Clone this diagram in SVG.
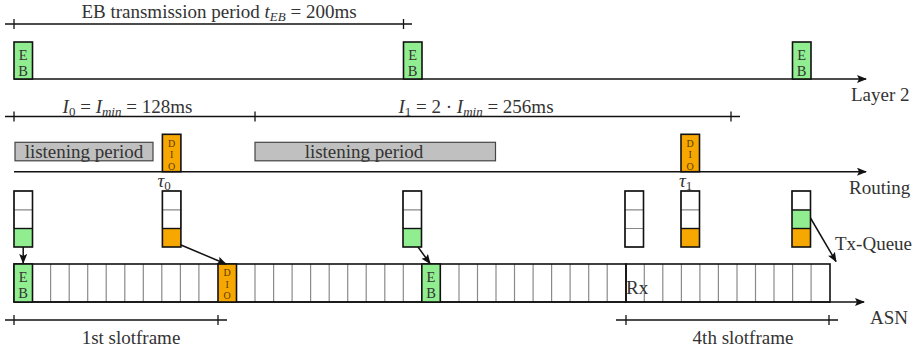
<svg xmlns="http://www.w3.org/2000/svg" width="914" height="349" viewBox="0 0 914 349">
<defs>
<marker id="arr" markerWidth="10" markerHeight="8" refX="9" refY="4" orient="auto" markerUnits="userSpaceOnUse">
<path d="M0,0 L10,4 L0,8 L2,4 Z" fill="#111"/>
</marker>
<style>
text{font-family:"Liberation Serif","Times New Roman",serif;font-size:19px;fill:#333}
.it{font-style:italic}
.sub{font-size:13px}
.stk{font-size:14.5px}
.dio{font-size:10px;fill:#5a3a00}
.axis{stroke:#111;stroke-width:1.6;fill:none}
.dim{stroke:#111;stroke-width:1.3;fill:none}
.eb{fill:#90ee90;stroke:#111;stroke-width:1.6}
.dbox{fill:#f7a800;stroke:#111;stroke-width:1.6}
.lp{fill:#c0c0c0;stroke:#444;stroke-width:1.2}
.cell{fill:#fff;stroke:#888;stroke-width:1}
.frame{fill:none;stroke:#111;stroke-width:1.6}
.slot{stroke:#8a8a8a;stroke-width:1.2}
.conn{stroke:#111;stroke-width:1.5;fill:none}
</style>
</defs>

<!-- Layer 2 -->
<g id="layer2">
<line class="dim" x1="5" y1="24" x2="412" y2="24"/>
<line class="dim" x1="14" y1="19" x2="14" y2="29"/>
<line class="dim" x1="403.5" y1="19" x2="403.5" y2="29"/>
<text x="219" y="18" text-anchor="middle">EB transmission period <tspan class="it">t</tspan><tspan class="it sub" dy="3">EB</tspan><tspan dy="-3"> = 200ms</tspan></text>
<line class="axis" x1="14" y1="79" x2="866" y2="79" marker-end="url(#arr)"/>
<text x="851" y="101">Layer 2</text>
</g>
<g id="eb1"><rect class="eb" x="14" y="42" width="18.5" height="37"/><text class="stk" text-anchor="middle"><tspan x="23.2" y="59.5">E</tspan><tspan x="23.2" y="76">B</tspan></text></g>
<g id="eb2"><rect class="eb" x="403.5" y="42" width="18.5" height="37"/><text class="stk" text-anchor="middle"><tspan x="412.7" y="59.5">E</tspan><tspan x="412.7" y="76">B</tspan></text></g>
<g id="eb3"><rect class="eb" x="792.5" y="42" width="18.5" height="37"/><text class="stk" text-anchor="middle"><tspan x="801.7" y="59.5">E</tspan><tspan x="801.7" y="76">B</tspan></text></g>

<!-- Routing -->
<g id="routing">
<line class="dim" x1="5" y1="116.5" x2="740" y2="116.5"/>
<line class="dim" x1="14" y1="111.5" x2="14" y2="121.5"/>
<line class="dim" x1="255" y1="111.5" x2="255" y2="121.5"/>
<line class="dim" x1="731" y1="111.5" x2="731" y2="121.5"/>
<text x="127.5" y="112.5" text-anchor="middle"><tspan class="it">I</tspan><tspan class="sub" dy="3">0</tspan><tspan dy="-3"> = </tspan><tspan class="it">I</tspan><tspan class="it sub" dy="3">min</tspan><tspan dy="-3"> = 128ms</tspan></text>
<text x="476" y="112.5" text-anchor="middle"><tspan class="it">I</tspan><tspan class="sub" dy="3">1</tspan><tspan dy="-3"> = 2 · </tspan><tspan class="it">I</tspan><tspan class="it sub" dy="3">min</tspan><tspan dy="-3"> = 256ms</tspan></text>
<line class="axis" x1="14" y1="171.7" x2="866" y2="171.7" marker-end="url(#arr)"/>
<text x="849" y="194">Routing</text>
</g>
<g id="lp1"><rect class="lp" x="15" y="142.3" width="138" height="18.5"/><text x="84" y="158" text-anchor="middle">listening period</text></g>
<g id="lp2"><rect class="lp" x="255" y="142.3" width="240.5" height="18.5"/><text x="364" y="158" text-anchor="middle">listening period</text></g>
<g id="dio1"><rect class="dbox" x="162.4" y="134.3" width="18.5" height="37.4"/><text class="dio" text-anchor="middle"><tspan x="171.6" y="146.5">D</tspan><tspan x="171.6" y="158">I</tspan><tspan x="171.6" y="169.5">O</tspan></text></g>
<g id="dio2"><rect class="dbox" x="681" y="134.3" width="18.5" height="37.4"/><text class="dio" text-anchor="middle"><tspan x="690.2" y="146.5">D</tspan><tspan x="690.2" y="158">I</tspan><tspan x="690.2" y="169.5">O</tspan></text></g>
<g id="tau0"><text x="157.5" y="187" class="it">τ<tspan class="sub" font-style="normal" dy="3">0</tspan></text></g>
<g id="tau1"><text x="679" y="187" class="it">τ<tspan class="sub" font-style="normal" dy="3">1</tspan></text></g>

<!-- Tx queues -->
<g id="q1"><rect class="cell" x="14" y="191" width="18.5" height="19"/><rect class="cell" x="14" y="210" width="18.5" height="18.5"/><rect x="14" y="228.5" width="18.5" height="18.5" fill="#90ee90"/><rect class="frame" x="14" y="191" width="18.5" height="56"/><line x1="14" y1="228.5" x2="32.5" y2="228.5" stroke="#111" stroke-width="1.4"/></g>
<g id="q2"><rect class="cell" x="162.4" y="191" width="18.5" height="19"/><rect class="cell" x="162.4" y="210" width="18.5" height="18.5"/><rect x="162.4" y="228.5" width="18.5" height="18.5" fill="#f7a800"/><rect class="frame" x="162.4" y="191" width="18.5" height="56"/><line x1="162.4" y1="228.5" x2="180.9" y2="228.5" stroke="#111" stroke-width="1.4"/></g>
<g id="q3"><rect class="cell" x="403" y="191" width="18.5" height="19"/><rect class="cell" x="403" y="210" width="18.5" height="18.5"/><rect x="403" y="228.5" width="18.5" height="18.5" fill="#90ee90"/><rect class="frame" x="403" y="191" width="18.5" height="56"/><line x1="403" y1="228.5" x2="421.5" y2="228.5" stroke="#111" stroke-width="1.4"/></g>
<g id="q4"><rect class="cell" x="625" y="191" width="18.5" height="19"/><rect class="cell" x="625" y="210" width="18.5" height="18.5"/><rect class="cell" x="625" y="228.5" width="18.5" height="18.5"/><rect class="frame" x="625" y="191" width="18.5" height="56"/></g>
<g id="q5"><rect class="cell" x="681" y="191" width="18.5" height="19"/><rect class="cell" x="681" y="210" width="18.5" height="18.5"/><rect x="681" y="228.5" width="18.5" height="18.5" fill="#f7a800"/><rect class="frame" x="681" y="191" width="18.5" height="56"/><line x1="681" y1="228.5" x2="699.5" y2="228.5" stroke="#111" stroke-width="1.4"/></g>
<g id="q6"><rect class="cell" x="792" y="191" width="18.5" height="19"/><rect x="792" y="210" width="18.5" height="18.5" fill="#90ee90"/><rect x="792" y="228.5" width="18.5" height="18.5" fill="#f7a800"/><rect class="frame" x="792" y="191" width="18.5" height="56"/><line x1="792" y1="210" x2="810.5" y2="210" stroke="#111" stroke-width="1.4"/><line x1="792" y1="228.5" x2="810.5" y2="228.5" stroke="#111" stroke-width="1.4"/></g>
<text x="835" y="250">Tx-Queue</text>

<!-- ASN slots -->
<g id="asn">
<g class="slot">
<line x1="50.6" y1="264" x2="50.6" y2="302"/><line x1="69.2" y1="264" x2="69.2" y2="302"/><line x1="87.7" y1="264" x2="87.7" y2="302"/><line x1="106.2" y1="264" x2="106.2" y2="302"/><line x1="124.8" y1="264" x2="124.8" y2="302"/><line x1="143.3" y1="264" x2="143.3" y2="302"/><line x1="161.8" y1="264" x2="161.8" y2="302"/><line x1="180.4" y1="264" x2="180.4" y2="302"/><line x1="198.9" y1="264" x2="198.9" y2="302"/>
<line x1="255" y1="264" x2="255" y2="302"/><line x1="273.6" y1="264" x2="273.6" y2="302"/><line x1="292.1" y1="264" x2="292.1" y2="302"/><line x1="310.6" y1="264" x2="310.6" y2="302"/><line x1="329.2" y1="264" x2="329.2" y2="302"/><line x1="347.7" y1="264" x2="347.7" y2="302"/><line x1="366.2" y1="264" x2="366.2" y2="302"/><line x1="384.8" y1="264" x2="384.8" y2="302"/><line x1="403.3" y1="264" x2="403.3" y2="302"/>
<line x1="459" y1="264" x2="459" y2="302"/><line x1="477.5" y1="264" x2="477.5" y2="302"/><line x1="496" y1="264" x2="496" y2="302"/><line x1="514.5" y1="264" x2="514.5" y2="302"/><line x1="533.1" y1="264" x2="533.1" y2="302"/><line x1="551.6" y1="264" x2="551.6" y2="302"/><line x1="570.1" y1="264" x2="570.1" y2="302"/><line x1="588.7" y1="264" x2="588.7" y2="302"/><line x1="607.2" y1="264" x2="607.2" y2="302"/>
<line x1="644.3" y1="264" x2="644.3" y2="302"/><line x1="662.8" y1="264" x2="662.8" y2="302"/><line x1="681.4" y1="264" x2="681.4" y2="302"/><line x1="699.9" y1="264" x2="699.9" y2="302"/><line x1="718.4" y1="264" x2="718.4" y2="302"/><line x1="737" y1="264" x2="737" y2="302"/><line x1="755.5" y1="264" x2="755.5" y2="302"/><line x1="774" y1="264" x2="774" y2="302"/><line x1="792.6" y1="264" x2="792.6" y2="302"/><line x1="811.1" y1="264" x2="811.1" y2="302"/>
</g>
<rect class="frame" x="14" y="264" width="612" height="38"/>
<rect class="frame" x="626" y="264" width="204" height="38"/>
<line class="axis" x1="14" y1="302" x2="864" y2="302" marker-end="url(#arr)"/>
<text x="870" y="324">ASN</text>
<text x="626" y="294">Rx</text>
</g>
<g id="slot-eb1"><rect class="eb" x="14" y="264" width="18.5" height="38"/><text class="stk" text-anchor="middle"><tspan x="23.2" y="281.5">E</tspan><tspan x="23.2" y="298">B</tspan></text></g>
<g id="slot-dio"><rect class="dbox" x="218" y="264" width="18.5" height="38"/><text class="dio" text-anchor="middle"><tspan x="227.2" y="276">D</tspan><tspan x="227.2" y="287.5">I</tspan><tspan x="227.2" y="299">O</tspan></text></g>
<g id="slot-eb2"><rect class="eb" x="421.8" y="264" width="18.5" height="38"/><text class="stk" text-anchor="middle"><tspan x="431" y="281.5">E</tspan><tspan x="431" y="298">B</tspan></text></g>

<!-- slotframe dims -->
<g id="sf1">
<line class="dim" x1="5" y1="320" x2="227" y2="320"/>
<line class="dim" x1="14" y1="315" x2="14" y2="325"/>
<line class="dim" x1="218" y1="315" x2="218" y2="325"/>
<text x="131" y="344" text-anchor="middle">1st slotframe</text>
</g>
<g id="sf4">
<line class="dim" x1="616" y1="320" x2="838" y2="320"/>
<line class="dim" x1="626" y1="315" x2="626" y2="325"/>
<line class="dim" x1="829" y1="315" x2="829" y2="325"/>
<text x="743" y="344" text-anchor="middle">4th slotframe</text>
</g>

<!-- connectors -->
<g id="connectors">
<line class="conn" x1="23.2" y1="247" x2="23.2" y2="263" marker-end="url(#arr)"/>
<line class="conn" x1="181" y1="245" x2="226" y2="264" marker-end="url(#arr)"/>
<line class="conn" x1="418" y1="247" x2="430" y2="263.5" marker-end="url(#arr)"/>
<line class="conn" x1="810.5" y1="218" x2="836" y2="261.5" marker-end="url(#arr)"/>
</g>
</svg>
